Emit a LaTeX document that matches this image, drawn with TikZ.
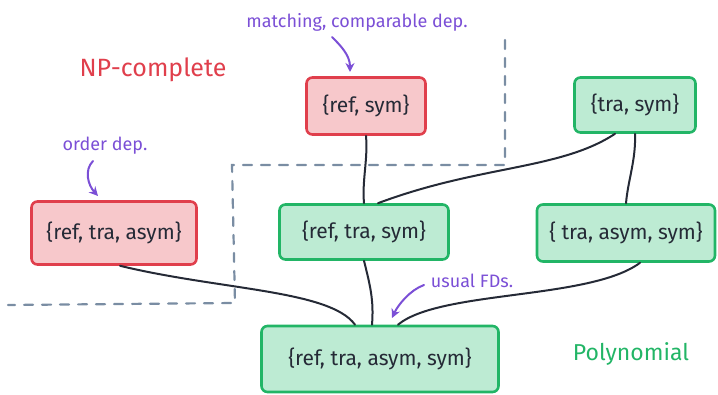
\documentclass[tikz,border=0pt]{standalone}
\usepackage{fontspec}
\setmainfont{Fira Sans}
\usetikzlibrary{arrows.meta}
\definecolor{redfill}{HTML}{F7C8CB}
\definecolor{redline}{HTML}{E03F4C}
\definecolor{greenfill}{HTML}{BDEBD3}
\definecolor{greenline}{HTML}{22B566}
\definecolor{ink}{HTML}{252A36}
\definecolor{purp}{HTML}{7B4FD6}
\definecolor{dashc}{HTML}{7A8DA3}
\tikzset{
  box/.style={rounded corners=6pt, line width=2.6pt, inner sep=0pt, text=ink,
     font=\fontsize{21}{24}\selectfont},
  redbox/.style={box, draw=redline, fill=redfill},
  greenbox/.style={box, draw=greenline, fill=greenfill},
  conn/.style={draw=ink, line width=2pt, line cap=round},
  note/.style={text=purp, font=\fontsize{18}{21}\selectfont},
  notearrow/.style={draw=purp, line width=2pt, line cap=round, -{Stealth[length=9pt,width=9pt]}},
  border/.style={draw=dashc, line width=2.2pt, dash pattern=on 9pt off 9pt, line cap=round}
}
\begin{document}
\begin{tikzpicture}[x=1pt,y=-1pt]
\useasboundingbox (0,0) rectangle (718,395);
% dashed border
\draw[border] (505,40) -- (505,165) -- (232,165) -- (235,303) -- (8,305);
% nodes
\node[redbox, minimum width=119pt, minimum height=57pt] (rs) at (366,106) {\{ref, sym\}};
\node[greenbox, minimum width=121pt, minimum height=55pt] (ts) at (635,105) {\{tra, sym\}};
\node[redbox, minimum width=165pt, minimum height=63pt] (rta) at (114,233) {\{ref, tra, asym\}};
\node[greenbox, minimum width=169pt, minimum height=55pt] (rts) at (364,232) {\{ref, tra, sym\}};
\node[greenbox, minimum width=178pt, minimum height=57pt] (tas) at (626,233) {\{ tra, asym, sym\}};
\node[greenbox, minimum width=237pt, minimum height=66pt] (all) at (380,359) {\{ref, tra, asym, sym\}};
% connectors
\coordinate (tsA) at ([xshift=-20pt]ts.south);
\coordinate (rtsA) at ([xshift=14pt]rts.north);
\coordinate (rtaA) at ([xshift=6pt]rta.south);
\coordinate (allA) at ([xshift=-25pt]all.north);
\coordinate (tasA) at ([xshift=14pt]tas.south);
\coordinate (allB) at ([xshift=18pt]all.north);
\draw[conn] (rs.south) .. controls (368,160) and (362,180) .. (rts.north);
\draw[conn] (tsA) .. controls (560,170) and (480,165) .. (rtsA);
\draw[conn] (ts.south) .. controls (636,160) and (628,180) .. (tas.north);
\draw[conn] (rtaA) .. controls (220,290) and (330,290) .. (allA);
\draw[conn] (rts.south) .. controls (370,285) and (374,300) .. ([xshift=-8pt]all.north);
\draw[conn] (tasA) .. controls (590,300) and (440,290) .. (allB);
% labels
\node[text=redline, font=\fontsize{25}{28}\selectfont] (np) at (153,70) {NP-complete};
\node[text=greenline, font=\fontsize{23}{26}\selectfont] (poly) at (631,354) {Polynomial};
\node[note] (n1) at (357,22) {matching, comparable dep.};
\node[note] (n2) at (105,146) {order dep.};
\node[note] (n3) at (472,281) {usual FDs.};
\coordinate (n1t) at (350,72);
\coordinate (n2t) at (98,196);
\coordinate (n3t) at (392,318);
\draw[notearrow] (332,37) .. controls (340,45) and (350,55) .. (n1t);
\draw[notearrow] (93,161) .. controls (84,170) and (88,185) .. (n2t);
\draw[notearrow] (424,285) .. controls (410,290) and (398,305) .. (n3t);
\end{tikzpicture}
\end{document}
